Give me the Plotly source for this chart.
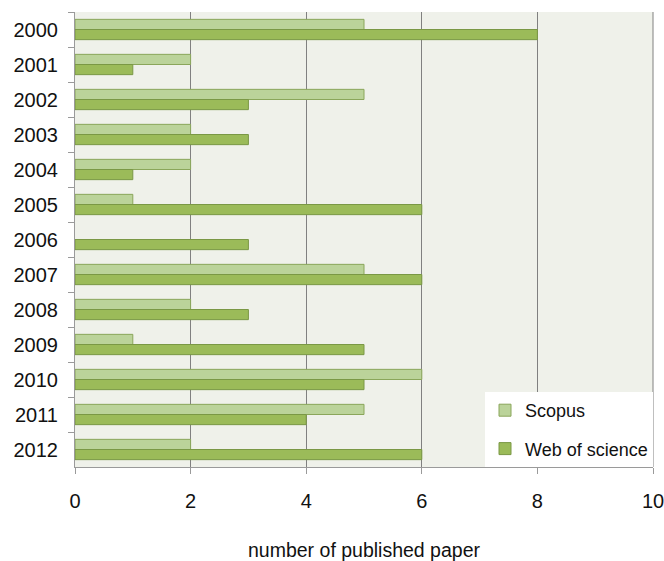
import plotly.graph_objects as go

years = ["2000", "2001", "2002", "2003", "2004", "2005", "2006",
         "2007", "2008", "2009", "2010", "2011", "2012"]
scopus = [5, 2, 5, 2, 2, 1, 0, 5, 2, 1, 6, 5, 2]
wos = [8, 1, 3, 3, 1, 6, 3, 6, 3, 5, 5, 4, 6]

fig = go.Figure()
fig.add_trace(go.Bar(y=years, x=scopus, orientation="h", name="Scopus", legendgroup="a",
                     marker=dict(color="#BBD39A",
                                 line=dict(color="#8AA65A", width=[1 if v else 0 for v in scopus]))))
fig.add_trace(go.Bar(y=years, x=wos, orientation="h", name="Web of science", legendgroup="b",
                     marker=dict(color="#9BBB59",
                                 line=dict(color="#7A9845", width=[1 if v else 0 for v in wos]))))

fig.update_layout(
    width=664, height=561,
    margin=dict(l=75, r=11, t=12, b=94, autoexpand=False),
    barmode="group", bargap=0.42, bargroupgap=0,
    plot_bgcolor="#EFF1EA", paper_bgcolor="white",
    font=dict(family="Liberation Sans, Arial, sans-serif", color="#111111"),
    showlegend=True,
    legend=dict(x=1, y=0, xanchor="right", yanchor="bottom",
                bgcolor="white", font=dict(size=18), traceorder="grouped",
                itemwidth=30, tracegroupgap=12),
    xaxis=dict(range=[0, 10], tickvals=[0, 2, 4, 6, 8, 10], showgrid=True,
               gridcolor="#808080", gridwidth=1, automargin=False,
               zeroline=False, showline=True, linecolor="#9a9a9a", mirror=False,
               ticks="outside", ticklen=6, tickcolor="#9a9a9a", ticklabelstandoff=10,
               ticklabeloverflow="allow", tickfont=dict(size=20),
               title=dict(text="number of published paper", font=dict(size=19.5), standoff=40)),
    yaxis=dict(autorange="reversed", showline=True, linecolor="#9a9a9a", automargin=False,
               ticks="outside", ticklen=6, tickcolor="#9a9a9a", tickson="boundaries",
               ticklabelstandoff=12, tickfont=dict(size=20), showgrid=False),
    shapes=[dict(type="line", xref="x domain", yref="y domain", x0=1, x1=1, y0=0, y1=1,
                 line=dict(color="#808080", width=1), layer="below")],
)

fig.write_html("out.html")
